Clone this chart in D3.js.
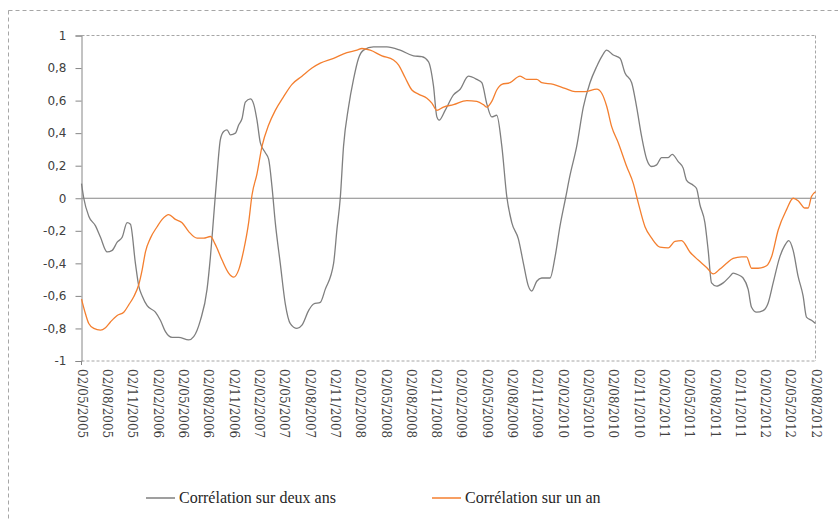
<!DOCTYPE html>
<html>
<head>
<meta charset="utf-8">
<script src="https://cdn.jsdelivr.net/npm/d3@7"></script>
<style>
  html, body { margin: 0; padding: 0; background: #fff; }
  svg { display: block; }
</style>
</head>
<body>
<svg id="chart" width="838" height="519"></svg>
<script>
// ---- Data (x = months elapsed since 02/05/2005) ----
const tickLabels = ["02/05/2005","02/08/2005","02/11/2005","02/02/2006","02/05/2006","02/08/2006",
  "02/11/2006","02/02/2007","02/05/2007","02/08/2007","02/11/2007","02/02/2008","02/05/2008",
  "02/08/2008","02/11/2008","02/02/2009","02/05/2009","02/08/2009","02/11/2009","02/02/2010",
  "02/05/2010","02/08/2010","02/11/2010","02/02/2011","02/05/2011","02/08/2011","02/11/2011",
  "02/02/2012","02/05/2012","02/08/2012"];
const tickMonths = [0,3,6,9,12,15,18,21,24,27,30,33,36,39,42,45,48,51,54,57,60,63,66,69,72,75,78,81,84,87];
const yTicks = [1,0.8,0.6,0.4,0.2,0,-0.2,-0.4,-0.6,-0.8,-1];
const seriesNames = ["Corrélation sur deux ans", "Corrélation sur un an"];

const twoYearMonths = [0,0.27,0.86,1.66,2.25,3.04,3.64,4.23,4.82,5.41,5.8,6.39,6.79,7.19,7.78,8.76,9.35,9.95,
  10.74,11.52,12.71,13.3,14.09,14.88,15.28,15.67,16.07,16.46,16.85,17.25,17.64,18.24,18.63,19.03,19.42,
  20.01,20.4,20.8,21.2,21.79,22.18,22.58,22.97,23.56,24.16,24.75,25.54,26.13,26.92,27.51,28.3,28.89,
  29.88,30.28,30.67,31.06,31.65,32.24,32.84,33.43,34.61,36.2,37.77,39.35,40.34,41.12,41.72,42.12,42.39,
  43.1,44.09,44.88,45.86,46.86,47.45,48.04,48.63,49.22,49.82,50.41,51.0,51.78,52.38,52.97,53.37,53.96,
  54.55,55.54,56.13,56.72,57.37,57.9,58.7,59.48,60.27,61.07,61.66,62.25,63.03,63.83,64.42,65.21,65.8,
  66.39,66.99,67.58,68.17,68.76,69.54,70.02,70.73,71.32,71.72,72.5,72.9,73.3,73.89,74.28,74.68,75.27,
  76.06,76.85,77.24,77.83,78.42,79.02,79.42,80.01,80.79,81.38,81.98,82.77,83.36,83.83,84.35,84.94,
  85.53,85.93,86.52,87];
const twoYearValues = [0.09,0.0,-0.11,-0.17,-0.24,-0.33,-0.32,-0.27,-0.24,-0.15,-0.16,-0.4,-0.54,-0.6,-0.66,-0.7,-0.75,-0.82,
  -0.855,-0.855,-0.87,-0.85,-0.75,-0.56,-0.36,-0.11,0.15,0.36,0.41,0.42,0.39,0.4,0.45,0.49,0.59,
  0.61,0.58,0.48,0.34,0.28,0.24,0.07,-0.15,-0.4,-0.65,-0.77,-0.8,-0.78,-0.69,-0.65,-0.64,-0.56,
  -0.4,-0.19,0.0,0.32,0.56,0.73,0.86,0.91,0.93,0.93,0.91,0.875,0.87,0.84,0.69,0.5,0.48,
  0.54,0.635,0.67,0.75,0.73,0.71,0.58,0.5,0.51,0.32,0.01,-0.15,-0.25,-0.4,-0.54,-0.57,-0.51,
  -0.49,-0.49,-0.36,-0.17,0.0,0.14,0.32,0.56,0.71,0.81,0.87,0.91,0.88,0.86,0.77,0.71,0.56,
  0.38,0.24,0.195,0.205,0.25,0.25,0.27,0.225,0.185,0.11,0.08,0.06,-0.04,-0.15,-0.32,-0.52,-0.54,
  -0.52,-0.48,-0.46,-0.47,-0.49,-0.56,-0.67,-0.7,-0.69,-0.645,-0.52,-0.36,-0.29,-0.26,-0.32,-0.48,
  -0.6,-0.73,-0.75,-0.77];

const oneYearMonths = [0,0.47,0.86,1.46,2.25,2.84,3.43,4.23,5.01,5.6,6.19,6.79,7.19,7.58,8.17,8.96,9.56,10.34,
  11.13,11.92,12.71,13.7,14.48,15.28,15.87,16.66,17.44,18.03,18.63,19.22,19.81,20.21,20.8,21.4,22.18,
  22.97,23.96,24.95,26.13,27.32,28.3,29.88,31.46,32.65,33.24,34.22,35.61,36.98,37.57,38.37,39.16,39.94,
  40.94,41.53,42.12,42.9,44.09,45.67,46.86,47.64,48.04,48.63,49.22,49.82,50.8,51.98,52.78,53.96,54.55,
  55.93,57.31,58.5,59.68,61.07,61.66,62.25,62.84,63.63,64.62,65.41,66.0,66.79,67.58,68.56,69.54,70.34,
  71.13,72.11,73.1,74.09,74.88,75.67,76.46,77.24,78.24,78.83,79.42,80.2,81.2,81.79,82.58,83.57,84.35,
  84.94,85.74,86.13,86.52,87];
const oneYearValues = [-0.62,-0.71,-0.77,-0.8,-0.81,-0.795,-0.76,-0.72,-0.7,-0.655,-0.605,-0.53,-0.44,-0.33,-0.245,-0.175,-0.13,-0.1,
  -0.13,-0.15,-0.205,-0.245,-0.245,-0.235,-0.285,-0.38,-0.46,-0.485,-0.44,-0.32,-0.15,0.02,0.15,0.32,0.45,
  0.54,0.625,0.7,0.75,0.8,0.83,0.86,0.895,0.91,0.92,0.91,0.875,0.85,0.82,0.74,0.665,0.64,
  0.615,0.585,0.54,0.56,0.575,0.6,0.595,0.575,0.56,0.595,0.665,0.7,0.71,0.75,0.73,0.73,0.71,
  0.7,0.675,0.655,0.655,0.67,0.645,0.565,0.44,0.34,0.195,0.09,-0.03,-0.175,-0.245,-0.3,-0.305,-0.265,
  -0.26,-0.33,-0.38,-0.425,-0.465,-0.435,-0.4,-0.37,-0.36,-0.36,-0.43,-0.43,-0.415,-0.36,-0.195,-0.07,0.0,
  -0.015,-0.06,-0.06,0.01,0.04];

const colors = ["#7f7f7f", "#f47f2f"];

// ---- Layout ----
const svg = d3.select("#chart");
const plotLeft = 81.5, plotRight = 815.5, plotTop = 35.5, plotBottom = 361;

const x = d3.scaleLinear().domain([0, 87]).range([plotLeft, plotRight]);
const y = d3.scaleLinear().domain([-1, 1]).range([plotBottom, plotTop]);

// outer dashed frame
svg.append("rect")
  .attr("x", 8.5).attr("y", 10.5).attr("width", 840).attr("height", 520)
  .attr("fill", "none").attr("stroke", "#a6a6a6").attr("stroke-width", 1)
  .attr("stroke-dasharray", "4,3");

// plot area dashed border (top, right, bottom)
const frame = svg.append("g").attr("fill", "none").attr("stroke", "#a6a6a6")
  .attr("stroke-width", 1).attr("stroke-dasharray", "3,2");
frame.append("line").attr("x1", plotLeft).attr("x2", plotRight).attr("y1", plotTop).attr("y2", plotTop);
frame.append("line").attr("x1", plotRight).attr("x2", plotRight).attr("y1", plotTop).attr("y2", plotBottom);
frame.append("line").attr("x1", plotLeft).attr("x2", plotRight).attr("y1", plotBottom).attr("y2", plotBottom);

// y axis
const yAxis = d3.axisLeft(y).tickValues(yTicks).tickSize(6).tickPadding(9)
  .tickFormat(d => String(d).replace(".", ","));
const gy = svg.append("g").attr("transform", `translate(${plotLeft},0)`).call(yAxis);
gy.select(".domain").attr("stroke", "#868686");
gy.selectAll(".tick line").attr("stroke", "#868686");
gy.selectAll(".tick text").attr("fill", "#404040")
  .style("font-family", "'DejaVu Sans', Verdana, sans-serif").style("font-size", "12px");

// zero line
svg.append("line")
  .attr("x1", plotLeft).attr("x2", plotRight).attr("y1", y(0)).attr("y2", y(0))
  .attr("stroke", "#868686").attr("stroke-width", 1.2);

// x axis labels (no visible ticks)
const xAxis = d3.axisBottom(x).tickValues(tickMonths).tickSize(0)
  .tickFormat((d, i) => tickLabels[i]);
const gx = svg.append("g").attr("transform", `translate(0,${plotBottom})`).call(xAxis);
gx.select(".domain").remove();
gx.selectAll(".tick text")
  .attr("fill", "#404040")
  .attr("text-anchor", "start")
  .attr("dy", "0.35em")
  .attr("transform", "translate(0,8) rotate(90)")
  .attr("x", 0).attr("y", 0)
  .style("font-family", "'DejaVu Serif', Cambria, serif")
  .style("font-size", "12px");
// small corner tick at the origin
svg.append("line").attr("x1", plotLeft).attr("x2", plotLeft).attr("y1", plotBottom).attr("y2", plotBottom + 4)
  .attr("stroke", "#868686");

// series lines
const series = [
  { name: seriesNames[0], xs: twoYearMonths, ys: twoYearValues, color: colors[0] },
  { name: seriesNames[1], xs: oneYearMonths, ys: oneYearValues, color: colors[1] }
];
const line = d3.line().x(d => x(d[0])).y(d => y(d[1])).curve(d3.curveMonotoneX);
series.forEach(s => {
  const n = Math.min(s.xs.length, s.ys.length);
  svg.append("path")
    .datum(d3.range(n).map(i => [s.xs[i], s.ys[i]]))
    .attr("fill", "none").attr("stroke", s.color).attr("stroke-width", 1.3)
    .attr("d", line);
});

// legend
const legendPos = [146, 432];
series.forEach((s, i) => {
  const g = svg.append("g").attr("transform", `translate(${legendPos[i]},498)`);
  g.append("line").attr("x1", 0).attr("x2", 29).attr("y1", 0).attr("y2", 0)
    .attr("stroke", s.color).attr("stroke-width", 1.5);
  g.append("text").attr("x", 33).attr("y", 5)
    .attr("fill", "#262626")
    .style("font-family", "'Liberation Serif', Cambria, serif")
    .style("font-size", "16px")
    .text(s.name);
});
</script>
</body>
</html>
